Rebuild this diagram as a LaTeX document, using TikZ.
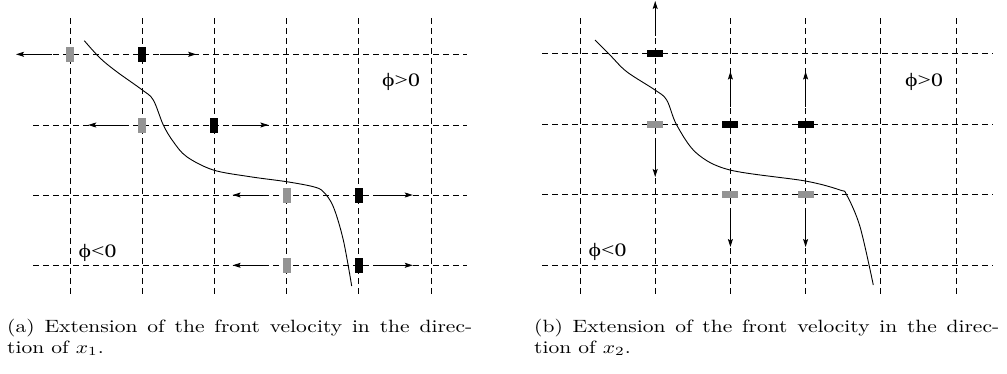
\documentclass[tikz,border=0pt]{standalone}
\usepackage{graphicx}
\usepackage{fontspec}
\newfontfamily\phifont{Liberation Serif}
\usetikzlibrary{arrows.meta}
\tikzset{
  gridline/.style={line width=0.9pt, dash pattern=on 6pt off 4pt},
  frontline/.style={line width=0.9pt},
  vel/.style={-{Stealth[length=8pt,width=5pt,inset=1.5pt]}, line width=0.9pt, shorten <=14pt},
  vgray/.style={fill=black!42, minimum width=8pt, minimum height=15pt, inner sep=0pt, outer sep=0pt},
  vblack/.style={vgray, fill=black},
  hgray/.style={fill=black!42, minimum width=16pt, minimum height=7pt, inner sep=0pt, outer sep=0pt},
  hblack/.style={hgray, fill=black},
  philabel/.style={font=\phifont\fontsize{19}{19}\selectfont, anchor=base, inner sep=0pt},
  captline/.style={anchor=base west, inner sep=0pt}
}
\newcommand{\captext}[1]{\scalebox{2.15}[1.78]{\fontsize{10}{12}\selectfont #1}}
\begin{document}
\begin{tikzpicture}[x=1pt,y=-1pt]
\useasboundingbox (0,0) rectangle (1007,373);

% ---------- left panel ----------
\foreach \xx in {70,142.2,214.4,286.6,358.8,431}
  \draw[gridline] (\xx,18) -- (\xx,297);
\foreach \yy in {54.3,125,195,265.3}
  \draw[gridline] (33,\yy) -- (467,\yy);

\draw[frontline] plot[smooth, tension=0.55] coordinates {
  (84.3,40.7) (100,58) (116.7,71.7) (142.3,90) (153.3,100) (163.3,125)
  (173.3,141.7) (186.7,156.7) (213.3,170) (250,176.7) (286.7,181.7)
  (313.3,186.7) (323.3,191.7) (333.3,206.7) (343.3,240) (351.7,286)};

\node[vgray]  (a1g) at (70,54.3) {};
\node[vblack] (a1b) at (142.2,54.3) {};
\node[vgray]  (a2g) at (142.2,125) {};
\node[vblack] (a2b) at (214.4,125) {};
\node[vgray]  (a3g) at (286.6,195) {};
\node[vblack] (a3b) at (358.8,195) {};
\node[vgray]  (a4g) at (286.6,265.3) {};
\node[vblack] (a4b) at (358.8,265.3) {};

\coordinate (a1gt) at (16,54.3);
\coordinate (a1bt) at (196.2,54.3);
\coordinate (a2gt) at (88.2,125);
\coordinate (a2bt) at (268.4,125);
\coordinate (a3gt) at (232.6,195);
\coordinate (a3bt) at (412.8,195);
\coordinate (a4gt) at (232.6,265.3);
\coordinate (a4bt) at (412.8,265.3);

\foreach \n in {a1g,a1b,a2g,a2b,a3g,a3b,a4g,a4b}
  \draw[vel] (\n) -- (\n t);

\node[philabel] (apos) at (401,86) {\scalebox{1.25}[1]{ϕ>0}};
\node[philabel] (aneg) at (97.5,257) {\scalebox{1.25}[1]{ϕ<0}};

% ---------- right panel ----------
\foreach \xx in {580,655.2,730.4,805.6,880.8,956}
  \draw[gridline] (\xx,18) -- (\xx,296);
\foreach \yy in {53.3,124,194.3,265.3}
  \draw[gridline] (542,\yy) -- (993,\yy);

\draw[frontline] plot[smooth, tension=0.55] coordinates {
  (595,40) (610,55) (626.7,71.7) (655,90) (666.7,100) (676.7,125)
  (696.7,153.3) (730,170) (805.3,181) (840,190) (846.7,195)
  (860,226.7) (873.3,285)};

\node[hblack] (b1b) at (655.2,53.3) {};
\node[hgray]  (b2g) at (655.2,124) {};
\node[hblack] (b2b) at (730.4,124) {};
\node[hblack] (b2c) at (805.6,124) {};
\node[hgray]  (b3g) at (730.4,194.3) {};
\node[hgray]  (b3h) at (805.6,194.3) {};

\coordinate (b1bt) at (655.2,1);
\coordinate (b2gt) at (655.2,177);
\coordinate (b2bt) at (730.4,71.5);
\coordinate (b2ct) at (805.6,71.5);
\coordinate (b3gt) at (730.4,247);
\coordinate (b3ht) at (805.6,247);

\foreach \n in {b1b,b2g,b2b,b2c,b3g,b3h}
  \draw[vel] (\n) -- (\n t);

\node[philabel] (bpos) at (924,86) {\scalebox{1.25}[1]{ϕ>0}};
\node[philabel] (bneg) at (607.5,256) {\scalebox{1.25}[1]{ϕ<0}};

% ---------- captions ----------
\node[captline] (capa1) at (7,332) {\captext{\makebox[216.3pt][s]{(a) Extension of the front velocity in the direc-}}};
\node[captline] (capa2) at (7,353) {\captext{tion of $x_1$.}};
\node[captline] (capb1) at (534,332) {\captext{\makebox[216.3pt][s]{(b) Extension of the front velocity in the direc-}}};
\node[captline] (capb2) at (534,353) {\captext{tion of $x_2$.}};
\end{tikzpicture}
\end{document}
